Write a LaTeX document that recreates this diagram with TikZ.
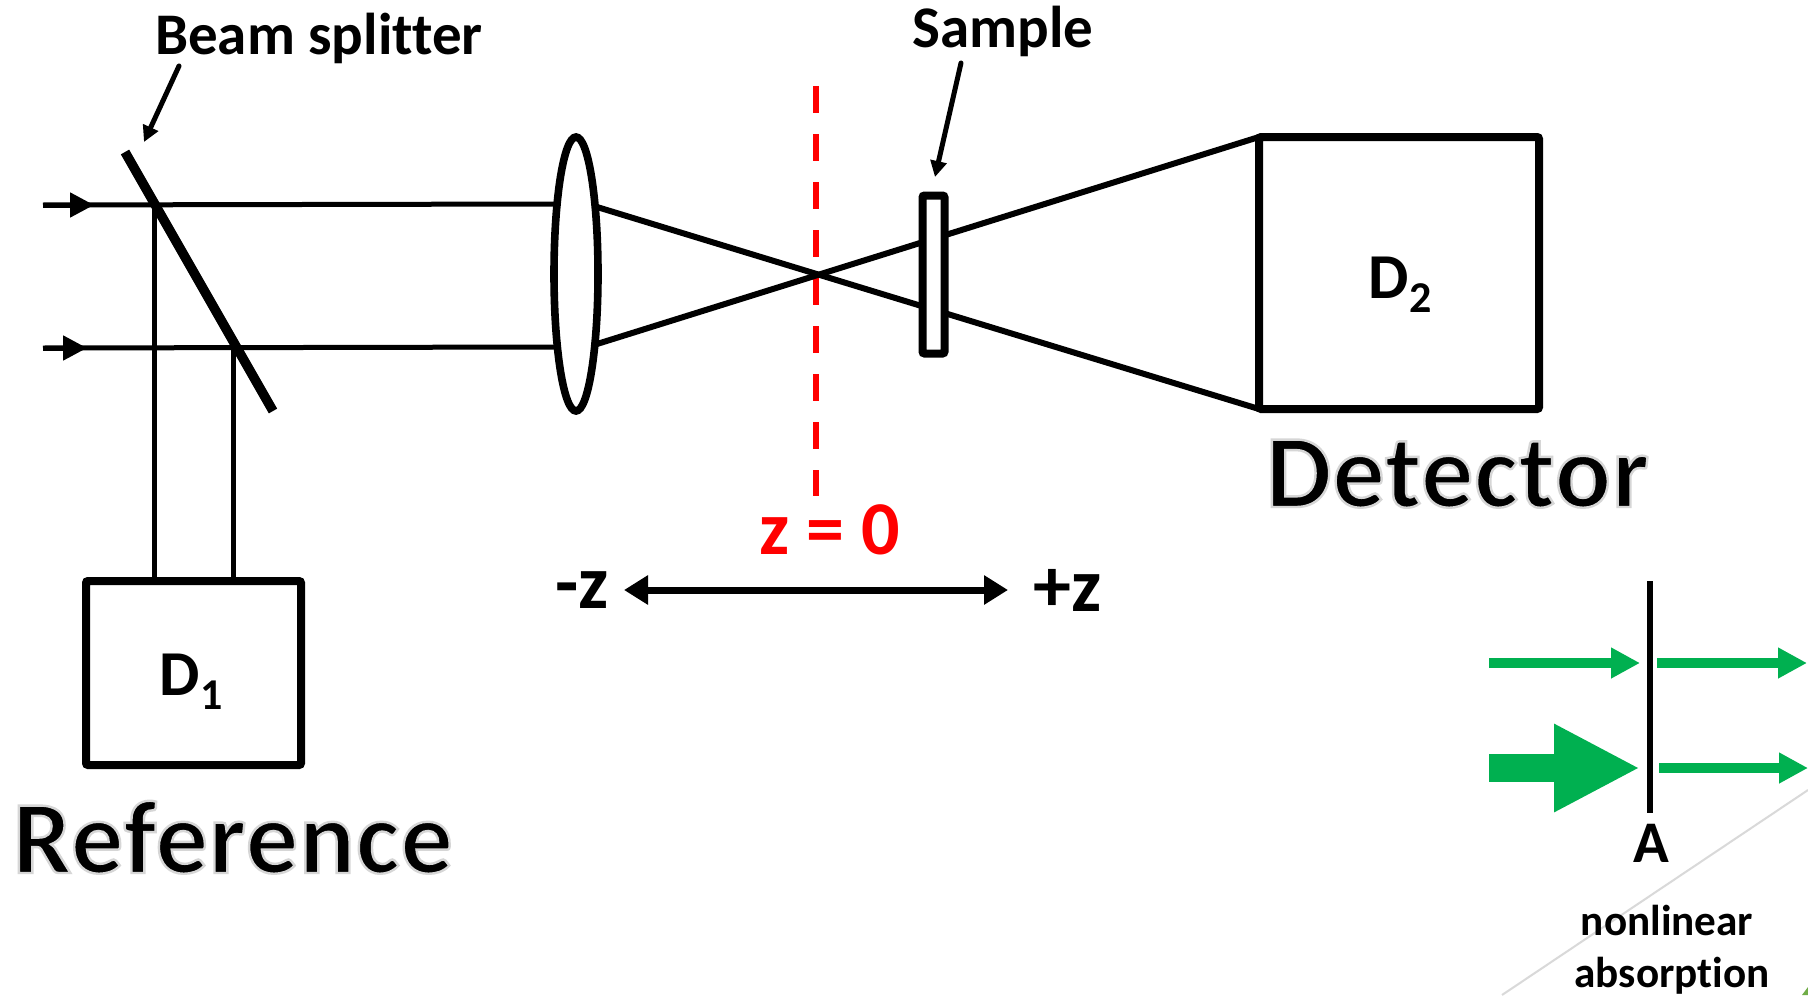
\documentclass[tikz,border=0pt]{standalone}
\usepackage{fontspec}
\setmainfont{Carlito}[Ligatures={NoCommon,TeX}]
\usetikzlibrary{arrows.meta,shapes.geometric}
\definecolor{arrowgreen}{HTML}{00B050}
\definecolor{cornergreen}{HTML}{70AD47}
\definecolor{decogrey}{HTML}{D9D9D9}
\newcommand{\glowtext}[1]{\special{pdf:code q 2 Tr 0.84 G 1.2 w}#1\special{pdf:code Q}}
\newcommand{\subnum}[1]{\raisebox{-0.22em}{\fontsize{22pt}{22pt}\selectfont #1}}
\tikzset{
  x=0.5pt,y=-0.5pt,
  beam/.style={draw=black,line width=2.5pt},
  ray/.style={draw=black,line width=3pt},
  pointer/.style={draw=black,line width=2.5pt,line cap=round,-{Triangle[length=8pt,width=8pt]}},
  inbeam/.style={draw=black,line width=2.5pt,-{Triangle[length=12pt,width=12pt]}},
  boxed/.style={draw=black,line width=4pt,rounded corners=1pt,inner sep=0pt},
  label/.style={anchor=base,inner sep=0pt,font=\fontsize{29.5pt}{29.5pt}\selectfont\bfseries},
  big/.style={anchor=base,inner sep=0pt,font=\fontsize{52pt}{52pt}\selectfont\bfseries\addfontfeature{LetterSpace=1}},
  green thin/.style={draw=arrowgreen,line width=5pt,-{Triangle[length=14.5pt,width=14.5pt]}},
  green thick/.style={draw=arrowgreen,line width=14pt,-{Triangle[length=43pt,width=41pt]}},
}
\begin{document}
\begin{tikzpicture}
\useasboundingbox (0,0) rectangle (1808,995);
\fill[white] (0,0) rectangle (1808,995);
% corner decoration
\coordinate (dA) at (1808,790); \coordinate (dB) at (1502,995);
\draw[decogrey,line width=1pt] (dA) -- (dB);
\fill[cornergreen] (1802,995) -- (1808,987) -- (1808,995) -- cycle;
% coordinates
\coordinate (in1) at (43,205); \coordinate (in2) at (43,348);
\coordinate (s1) at (154,205); \coordinate (s2) at (233.5,348);
\coordinate (l1) at (560,204); \coordinate (l2) at (560,347);
\coordinate (r1) at (597,207); \coordinate (r2) at (597,344);
\coordinate (in1m) at (94,205); \coordinate (in2m) at (87,348);
\coordinate (detT) at (1259,137); \coordinate (detB) at (1259,409);
% boxes
\node[boxed,minimum width=107.5pt,minimum height=92pt] (d1box) at (193.5,673) {};
\node[boxed,minimum width=140pt,minimum height=136pt] (d2box) at (1399,273) {};
% beams
\draw[beam] (in1) -- (l1);
\draw[beam] (in2) -- (l2);
\draw[inbeam] (in1) -- (in1m);
\draw[inbeam] (in2) -- (in2m);
\draw[beam] (s1) -- (s1 |- d1box.north);
\draw[beam] (s2) -- (s2 |- d1box.north);
% beam splitter
\coordinate (bsT) at (125,152); \coordinate (bsB) at (273,411);
\draw[line width=4.8pt,black] (bsT) -- (bsB);
% lens
\node[ellipse,draw=black,fill=white,line width=3.8pt,minimum width=22pt,minimum height=137pt,inner sep=0pt] (lens) at (576,274) {};
% z=0 dashed
\coordinate (zT) at (816,86); \coordinate (zB) at (816,496);
\draw[red,line width=3.2pt,dash pattern=on 13.5pt off 10.5pt] (zT) -- (zB);
\draw[ray] (r1) -- (detB);
\draw[ray] (r2) -- (detT);
% sample
\node[boxed,fill=white,line width=4pt,minimum width=11pt,minimum height=79pt] (sample) at (933.5,274.5) {};
% pointers
\node[label] (bstext) at (319,55) {Beam splitter};
\node[label] (smptext) at (1003,48) {Sample};
\coordinate (bsP) at (179,66); \coordinate (bsQ) at (144,142);
\coordinate (smP) at (961,63); \coordinate (smQ) at (935,177);
\draw[pointer] (bsP) -- (bsQ);
\draw[pointer] (smP) -- (smQ);
% big labels
\node[big] (ref) at (233,873) {\glowtext{Reference}};
\node[big] (det) at (1457.5,507) {\glowtext{Detector}};
\node[label,font=\fontsize{32pt}{32pt}\selectfont\bfseries] (d1txt) at (191,695) {D\subnum{1}};
\node[label,font=\fontsize{32pt}{32pt}\selectfont\bfseries] (d2txt) at (1400,298) {D\subnum{2}};
% z axis
\node[label,font=\fontsize{38pt}{38pt}\selectfont\bfseries,text=red] (zzero) at (830,554) {z = 0};
\node[label,font=\fontsize{38pt}{38pt}\selectfont\bfseries] (mz) at (582,608) {-z};
\node[label,font=\fontsize{38pt}{38pt}\selectfont\bfseries] (pz) at (1068,611) {+z};
\coordinate (zaL) at (624,590); \coordinate (zaR) at (1008,590);
\draw[draw=black,line width=3.5pt,{Triangle[length=12pt,width=14pt]}-{Triangle[length=12pt,width=14pt]}] (zaL) -- (zaR);
% absorber
\coordinate (aT) at (1650,581); \coordinate (aB) at (1650,813);
\draw[black,line width=3.2pt] (aT) -- (aB);
\coordinate (g1a) at (1489,663); \coordinate (g1b) at (1640,663);
\coordinate (g2a) at (1657,663); \coordinate (g2b) at (1807,663);
\coordinate (g3a) at (1489,768); \coordinate (g3b) at (1640,768);
\coordinate (g4a) at (1659,768); \coordinate (g4b) at (1808,768);
\draw[green thin] (g1a) -- (g1b);
\draw[green thin] (g2a) -- (g2b);
\draw[green thick] (g3a) -- (g3b);
\draw[green thin] (g4a) -- (g4b);
\node[label] (atxt) at (1651,862) {A};
\node[label,font=\fontsize{21.6pt}{21.6pt}\selectfont\bfseries] (nl) at (1667,935) {nonlinear};
\node[label,font=\fontsize{21.6pt}{21.6pt}\selectfont\bfseries] (abs) at (1672,987) {absorption};
\end{tikzpicture}
\end{document}
